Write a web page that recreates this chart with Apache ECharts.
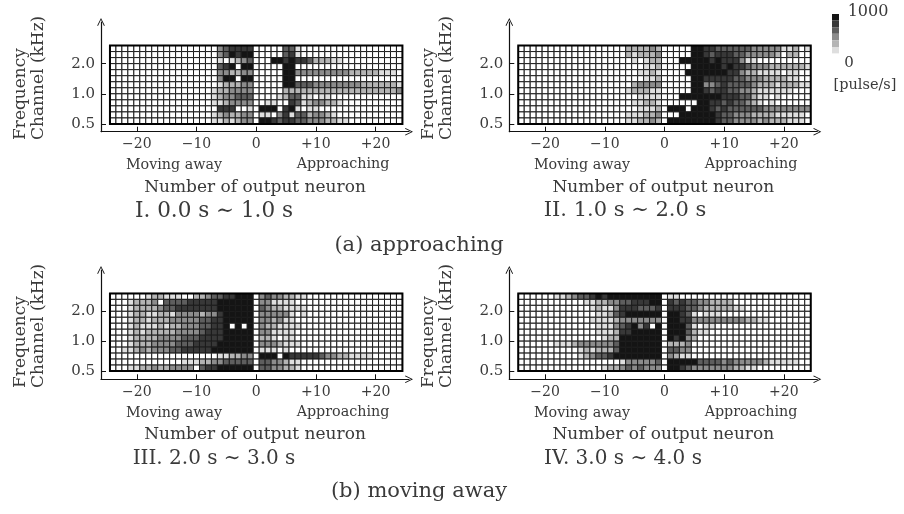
<!DOCTYPE html>
<html>
<head>
<meta charset="utf-8">
<style>html,body{margin:0;padding:0;background:#fff}#c{width:904px;height:514px}</style>
<script src="https://cdn.jsdelivr.net/npm/echarts@6/dist/echarts.min.js"></script>
</head>
<body>
<div id="c"></div>
<script>
// Firing-rate steps of the legend, pulse/s
const rateLevels = [0, 167, 333, 500, 667, 833, 1000];
const levelColors = ['#ffffff', '#dedede', '#b4b4b4', '#8c8c8c', '#5e5e5e', '#383838', '#141414'];

const xTicks = [-20, -10, 0, 10, 20];
const xTickLabels = ['\u221220', '\u221210', '0', '+10', '+20'];
const yTicks = [0, 5, 10];
const yTickLabels = ['0.5', '1.0', '2.0'];

// Rows listed top (channel 12) to bottom (channel 0); columns are neurons -24 ... +24; cells hold legend steps
const panelI = [
[0,0,0,0,0,0,0,0,0,0,0,0,0,0,0,0,0, 0,3,4,5,5,5,5, 0, 0,0,0,0,4,4,1,0,0,0,0,0,0,0,0,0,0,0,0,0,0,0,0,0],
[0,0,0,0,0,0,0,0,0,0,0,0,0,0,0,0,0, 0,3,4,6,5,6,6, 0, 0,0,0,0,4,5,1,0,0,0,0,0,0,0,0,0,0,0,0,0,0,0,0,0],
[0,0,0,0,0,0,0,0,0,0,0,0,0,0,0,0,0, 0,1,0,1,2,3,4, 0, 0,0,6,6,5,6,5,5,4,2,2,2,1,1,0,0,0,0,0,0,0,0,0,0],
[0,0,0,0,0,0,0,0,0,0,0,0,0,0,0,0,0, 0,4,5,6,0,6,6, 0, 0,0,0,0,6,6,0,0,0,0,0,0,0,0,0,0,0,0,0,0,0,0,0,0],
[0,0,0,0,0,0,0,0,0,0,0,0,0,0,0,0,0, 0,3,3,2,2,3,3, 0, 0,0,0,0,6,6,3,3,3,3,3,3,3,3,3,2,2,2,2,2,1,1,1,0],
[0,0,0,0,0,0,0,0,0,0,0,0,0,0,0,0,0, 0,3,6,6,0,6,6, 0, 0,0,0,0,6,6,0,0,0,0,0,0,0,0,0,0,0,0,0,0,0,0,0,0],
[0,0,0,0,0,0,0,0,0,0,0,0,0,0,0,0,0, 0,1,2,2,2,3,3, 0, 0,0,0,0,6,6,4,4,4,3,3,3,3,3,3,3,3,2,2,2,2,2,2,1],
[0,0,0,0,0,0,0,0,0,0,0,0,0,0,0,0,0, 1,2,2,3,3,3,3, 0, 0,0,0,0,2,2,2,2,2,2,2,2,2,2,2,2,2,2,2,2,2,2,2,3],
[0,0,0,0,0,0,0,0,0,0,0,0,0,0,0,0,0, 1,2,3,3,4,4,4, 0, 0,0,0,1,2,4,4,1,1,0,1,1,0,0,0,0,0,0,0,0,0,0,0,0],
[0,0,0,0,0,0,0,0,0,0,0,0,0,0,0,0,0, 1,1,2,3,3,3,3, 0, 0,1,1,0,0,5,4,1,2,3,3,2,2,1,0,0,0,0,0,0,0,0,0,0],
[0,0,0,0,0,0,0,0,0,0,0,0,0,0,0,0,0, 0,5,5,5,0,0,1, 0, 6,6,6,0,5,6,1,0,1,1,0,0,0,0,0,0,0,0,0,0,0,0,0,0],
[0,0,0,0,0,0,0,0,0,0,0,0,0,0,0,0,0, 1,2,3,2,2,3,3, 0, 1,1,0,3,5,1,4,4,2,3,3,2,1,0,0,0,0,0,0,0,0,0,0,0],
[0,0,0,0,0,0,0,0,0,0,0,0,0,0,0,0,0, 1,1,2,1,2,3,3, 0, 6,6,5,4,5,5,4,4,3,3,3,2,2,1,1,0,0,0,0,0,0,0,0,0]
];
const panelII = [
[0,0,0,0,0,0,0,0,0,0,0,0,0,0,0,0,0, 0,2,2,2,2,3,2, 0, 0,0,0,0,6,6,5,5,4,4,4,4,4,4,3,3,3,3,3,1,1,2,0,1],
[0,0,0,0,0,0,0,0,0,0,0,0,0,0,0,0,0, 0,2,1,2,2,2,3, 0, 0,0,0,0,6,6,5,4,5,5,5,4,4,3,3,3,3,3,2,0,2,2,0,0],
[0,0,0,0,0,0,0,0,0,0,0,0,0,0,0,0,0, 0,0,1,0,1,2,2, 0, 0,0,6,6,6,6,6,5,6,5,5,5,3,1,1,0,0,0,0,0,0,0,0,0],
[0,0,0,0,0,0,0,0,0,0,0,0,0,0,0,0,0, 0,0,0,0,1,1,2, 0, 0,0,0,0,6,6,6,6,6,5,6,5,5,4,3,3,3,2,2,2,2,2,2,1],
[0,0,0,0,0,0,0,0,0,0,0,0,0,0,0,0,0, 0,0,0,1,1,2,1, 0, 0,0,0,6,6,6,6,6,6,6,5,5,3,2,2,1,1,1,1,0,1,1,0,0],
[0,0,0,0,0,0,0,0,0,0,0,0,0,0,0,0,0, 0,0,0,0,1,1,2, 0, 0,0,0,0,6,6,5,5,5,5,5,4,4,3,3,3,2,2,2,2,1,1,0,0],
[0,0,0,0,0,0,0,0,0,0,0,0,0,0,0,0,0, 0,0,2,3,3,3,3, 0, 0,0,0,0,6,6,3,3,4,5,4,4,4,4,3,2,2,2,1,2,2,2,1,1],
[0,0,0,0,0,0,0,0,0,0,0,0,0,0,0,0,0, 0,1,2,2,2,1,1, 0, 0,0,0,0,6,6,5,4,5,5,4,4,3,3,2,1,1,1,1,1,1,0,0,0],
[0,0,0,0,0,0,0,0,0,0,0,0,0,0,0,0,0, 0,0,0,1,1,1,1, 0, 0,0,6,6,6,6,6,6,6,5,5,5,4,4,2,1,1,0,1,0,0,0,0,0],
[0,0,0,0,0,0,0,0,0,0,0,0,0,0,0,0,0, 0,0,1,1,2,2,1, 0, 0,0,0,0,0,6,6,5,5,4,5,4,4,3,2,1,0,1,0,0,0,0,0,0],
[0,0,0,0,0,0,0,0,0,0,0,0,0,0,0,0,0, 0,0,0,1,1,1,2, 0, 6,6,6,0,6,6,6,5,4,5,4,4,4,4,4,4,3,3,3,3,3,3,3,3],
[0,0,0,0,0,0,0,0,0,0,0,0,0,0,0,0,0, 0,1,1,1,2,2,3, 0, 0,0,6,6,6,6,6,6,5,4,4,3,3,3,2,2,2,2,1,1,1,1,1,0],
[0,0,0,0,0,0,0,0,0,0,0,0,0,0,0,0,0, 0,1,1,2,2,3,2, 0, 6,6,6,6,6,6,6,6,5,4,4,3,3,3,3,2,3,2,2,2,1,1,1,0]
];
const panelIII = [
[0,0,0,0,0,0,1,2,2,1,1,1,0,0,2,2,3,4,4,5,5,6,6,6, 0, 3,4,3,3,2,2,1,1,0,0,0,0,0,0,0,0,0,0,0,0,0,0,0,0],
[0,0,0,1,2,2,2,3,0,4,4,4,4,5,5,5,5,5,6,6,6,6,6,6, 0, 3,3,1,1,1,1,0,0,0,0,0,0,0,0,0,0,0,0,0,0,0,0,0,0],
[0,0,0,1,2,2,2,2,3,4,4,5,5,5,5,5,5,5,6,6,6,6,6,6, 0, 4,3,2,2,1,1,1,1,0,0,0,0,0,0,0,0,0,0,0,0,0,0,0,0],
[0,0,0,1,2,2,1,1,2,2,1,3,3,3,3,2,3,3,5,6,6,6,6,6, 0, 3,3,3,3,3,1,0,1,0,0,0,0,0,0,0,0,0,0,0,0,0,0,0,0],
[0,0,0,1,2,2,1,2,2,2,3,3,3,3,3,4,4,5,5,6,6,6,6,6, 0, 3,3,2,3,1,1,0,0,0,0,0,0,0,0,0,0,0,0,0,0,0,0,0,0],
[0,0,0,1,2,1,1,1,2,1,2,2,3,3,3,4,4,5,5,6,0,6,0,6, 0, 3,2,2,1,1,1,1,0,0,0,0,0,0,0,0,0,0,0,0,0,0,0,0,0],
[0,0,0,1,2,1,2,2,2,2,2,3,3,3,3,4,5,5,5,6,6,6,6,6, 0, 3,3,1,1,1,1,0,0,0,0,0,0,0,0,0,0,0,0,0,0,0,0,0,0],
[0,0,0,1,2,2,2,2,3,3,3,3,4,4,4,5,5,5,5,6,6,6,6,6, 0, 2,2,1,0,1,1,0,0,0,0,0,0,0,0,0,0,0,0,0,0,0,0,0,0],
[0,0,0,1,2,2,2,3,3,3,3,4,4,4,5,5,5,5,6,6,6,6,6,6, 0, 3,3,3,2,1,1,1,0,0,0,0,0,0,0,0,0,0,0,0,0,0,0,0,0],
[0,0,1,1,2,3,2,3,3,3,4,4,5,5,5,5,5,6,6,6,6,6,6,6, 0, 1,1,1,0,1,0,0,0,0,0,0,0,0,0,0,0,0,0,0,0,0,0,0,0],
[0,0,0,0,0,0,0,0,0,0,0,0,0,0,0,0,0,0,1,1,2,2,3,3, 0, 6,6,6,0,6,5,5,5,5,5,4,3,3,2,2,1,1,1,1,0,0,0,0,0],
[0,0,0,0,0,0,0,0,0,0,0,0,1,1,1,2,2,3,3,4,4,4,4,4, 0, 4,4,3,3,2,1,1,0,0,0,0,0,0,0,0,0,0,0,0,0,0,0,0,0],
[0,0,0,1,1,2,2,3,2,2,3,3,3,3,0,4,5,5,6,6,6,6,6,6, 0, 4,4,3,3,2,2,1,0,0,0,0,0,0,0,0,0,0,0,0,0,0,0,0,0]
];
const panelIV = [
[0,0,0,0,0,0,1,1,2,3,4,4,5,6,5,6,6,6,6,6,6,6,6,6, 0, 1,1,0,0,0,0,0,0,0,0,0,0,0,0,0,0,0,0,0,0,0,0,0,0],
[0,0,0,0,0,0,0,0,0,0,0,1,1,2,2,3,3,4,4,5,5,5,6,6, 0, 5,4,5,4,4,3,3,2,2,2,2,0,0,0,0,0,0,0,0,0,0,0,0,0],
[0,0,0,0,0,0,0,0,0,0,0,0,1,2,1,1,3,5,5,5,4,4,4,5, 0, 5,5,5,4,4,3,2,2,2,2,2,1,1,0,0,0,0,0,0,0,0,0,0,0],
[0,0,0,0,0,0,0,0,0,0,0,0,0,1,1,2,4,5,6,6,6,6,6,6, 0, 6,6,5,4,1,0,1,1,1,0,0,0,0,0,0,0,0,0,0,0,0,0,0,0],
[0,0,0,0,0,0,0,0,0,0,0,0,1,1,1,1,2,3,3,3,3,3,3,3, 0, 6,6,5,5,3,3,3,3,3,3,3,3,3,2,2,1,1,0,0,0,0,0,0,0],
[0,0,0,0,0,0,0,0,0,0,0,0,0,1,1,1,3,4,5,6,3,5,0,6, 0, 6,6,6,4,1,0,1,1,0,0,0,0,0,0,0,0,0,0,0,0,0,0,0,0],
[0,0,0,0,0,0,0,0,0,0,0,0,0,1,1,1,2,5,5,6,6,6,6,6, 0, 6,6,6,4,2,1,1,0,0,0,0,0,0,0,0,0,0,0,0,0,0,0,0,0],
[0,0,0,0,0,0,0,0,0,0,0,0,0,0,1,2,2,6,6,6,6,6,6,6, 0, 6,5,6,3,2,0,0,0,0,0,0,0,0,0,0,0,0,0,0,0,0,0,0,0],
[0,0,0,0,0,0,1,1,1,2,3,3,3,3,3,3,4,6,6,6,6,6,6,6, 0, 2,2,2,3,0,0,0,0,0,0,0,0,0,0,0,0,0,0,0,0,0,0,0,0],
[0,0,0,0,0,0,0,0,0,0,1,2,1,2,2,2,4,6,6,6,6,6,6,6, 0, 4,4,3,3,0,0,0,0,0,0,0,0,0,0,0,0,0,0,0,0,0,0,0,0],
[0,0,0,0,0,0,0,0,0,0,1,2,3,4,4,5,6,6,6,6,6,6,6,6, 0, 3,2,1,1,0,0,0,0,0,0,0,0,0,0,0,0,0,0,0,0,0,0,0,0],
[0,0,0,0,0,0,0,0,0,0,0,0,0,0,0,0,0,1,3,3,3,3,3,4, 0, 6,6,6,6,6,4,4,4,4,3,4,3,3,3,3,3,2,1,1,1,1,1,0,0],
[0,0,0,0,0,0,0,0,0,0,0,0,0,0,1,2,2,3,4,3,4,3,3,3, 0, 6,6,5,4,3,3,3,3,3,3,3,2,2,1,1,0,0,0,0,0,0,0,0,0]
];
const panels = [panelI, panelII, panelIII, panelIV];

const captions = ['I. 0.0 s \u223C 1.0 s', 'II. 1.0 s \u223C 2.0 s', 'III. 2.0 s \u223C 3.0 s', 'IV. 3.0 s \u223C 4.0 s'];
const groupCaptions = ['(a) approaching', '(b) moving away'];

const serif = '"DejaVu Serif", "Liberation Serif", serif';
const inkAxis = '#111';
const inkText = '#3a3a3a';
const chevron = 'path://M0,10 L5,0 L10,10 L9,10.6 L5,2.4 L1,10.6 Z';

const layout = [
  {left: 101,   top: 22,  height: 109.7, yMin: -1.28, yMax: 16.9,  capX: 214, capSize: 21.5},
  {left: 509.3, top: 22,  height: 109.7, yMin: -1.28, yMax: 16.9,  capX: 625, capSize: 21},
  {left: 101,   top: 270, height: 109.3, yMin: -1.39, yMax: 16.92, capX: 214, capSize: 20},
  {left: 509.3, top: 270, height: 109.3, yMin: -1.39, yMax: 16.92, capX: 623, capSize: 20}
];

function renderCell(params, api) {
  const c = api.value(0), r = api.value(1);
  const a = api.coord([c - 0.5, r]), b = api.coord([c + 0.5, r + 1]);
  return {type: 'rect',
    shape: {x: a[0], y: b[1], width: b[0] - a[0], height: a[1] - b[1]},
    style: {fill: api.visual('color'), stroke: '#1c1c1c', lineWidth: 1}};
}
function renderFrame(params, api) {
  const a = api.coord([api.value(0), api.value(1)]), b = api.coord([api.value(2), api.value(3)]);
  return {type: 'rect', z2: 5,
    shape: {x: a[0], y: b[1], width: b[0] - a[0], height: a[1] - b[1]},
    style: {fill: 'none', stroke: '#000', lineWidth: 2}};
}

const grids = [], xAxes = [], yAxes = [], series = [], graphics = [], heatIdx = [];
function txt(x, y, text, size, extra) {
  graphics.push(Object.assign({type: 'text', x, y, silent: true,
    style: {text, font: size + 'px ' + serif, fill: inkText, textAlign: 'center', textVerticalAlign: 'middle'}}, extra || {}));
}

panels.forEach(function (panel, k) {
  const L = layout[k];
  grids.push({left: L.left, top: L.top, width: 308, height: L.height});
  xAxes.push({gridIndex: k, type: 'value', min: -26, max: 25.6, name: 'Number of output neuron',
    nameLocation: 'middle', nameGap: 47, nameTextStyle: {fontFamily: serif, fontSize: 17, color: inkText},
    splitLine: {show: false},
    axisLine: {onZero: false, lineStyle: {color: inkAxis, width: 1.2}, symbol: ['none', chevron], symbolSize: [8, 8]},
    axisTick: {inside: true, length: 5, lineStyle: {color: inkAxis}, customValues: xTicks},
    axisLabel: {margin: 6, fontFamily: serif, fontSize: 14, color: inkText, customValues: xTicks,
      formatter: function (v) { return xTickLabels[xTicks.indexOf(v)]; }}});
  yAxes.push({gridIndex: k, type: 'value', min: L.yMin, max: L.yMax,
    splitLine: {show: false},
    axisLine: {onZero: false, lineStyle: {color: inkAxis, width: 1.2}, symbol: ['none', chevron], symbolSize: [8, 8]},
    axisTick: {inside: true, length: 5, lineStyle: {color: inkAxis}, customValues: yTicks},
    axisLabel: {margin: 6, fontFamily: serif, fontSize: 15, color: inkText, customValues: yTicks,
      formatter: function (v) { return yTickLabels[yTicks.indexOf(v)]; }}});

  const cells = [];
  panel.forEach(function (row, i) {
    row.forEach(function (level, j) { cells.push([j - 24, 12 - i, rateLevels[level]]); });
  });
  heatIdx.push(series.length);
  series.push({type: 'custom', xAxisIndex: k, yAxisIndex: k, data: cells, renderItem: renderCell,
    encode: {x: 0, y: 1}, clip: false, silent: true});
  series.push({type: 'custom', xAxisIndex: k, yAxisIndex: k, data: [[-24.5, 0, 24.5, 13]], renderItem: renderFrame,
    encode: {x: [0, 2], y: [1, 3]}, clip: false, silent: true, z: 3});

  const dx = k % 2 ? 408 : 0, dy = k > 1 ? 248 : 0;
  txt(174 + dx, 165 + dy, 'Moving away', 14.3);
  txt(343 + dx, 164 + dy, 'Approaching', 14.3);
  txt(L.capX, 211 + dy, captions[k], L.capSize);
  // vertical axis title, two rotated lines sharing their lower end
  txt(21 + dx, 140 + dy, 'Frequency', 17, {rotation: Math.PI / 2});
  txt(39 + dx, 140 + dy, 'Channel (kHz)', 17, {rotation: Math.PI / 2});
  const g1 = graphics[graphics.length - 2], g2 = graphics[graphics.length - 1];
  g1.style.textAlign = 'left'; g2.style.textAlign = 'left';
});

txt(419, 246, groupCaptions[0], 21);
txt(419, 492, groupCaptions[1], 21);
txt(868, 12, '1000', 16);
txt(849, 63, '0', 15);
txt(865, 85, '[pulse/s]', 14.5);

const chart = echarts.init(document.getElementById('c'), null, {renderer: 'canvas'});
chart.setOption({
  animation: false,
  backgroundColor: '#fff',
  grid: grids, xAxis: xAxes, yAxis: yAxes, series: series,
  graphic: {elements: graphics},
  visualMap: {
    type: 'piecewise', seriesIndex: heatIdx, dimension: 2,
    left: 832, top: 14, orient: 'vertical', itemWidth: 7, itemHeight: 6.6, itemGap: 0,
    itemSymbol: 'rect', showLabel: false, selectedMode: false, hoverLink: false, padding: 0,
    pieces: rateLevels.map(function (v, i) { return {value: v, color: levelColors[i]}; })
  }
});
</script>
</body>
</html>
